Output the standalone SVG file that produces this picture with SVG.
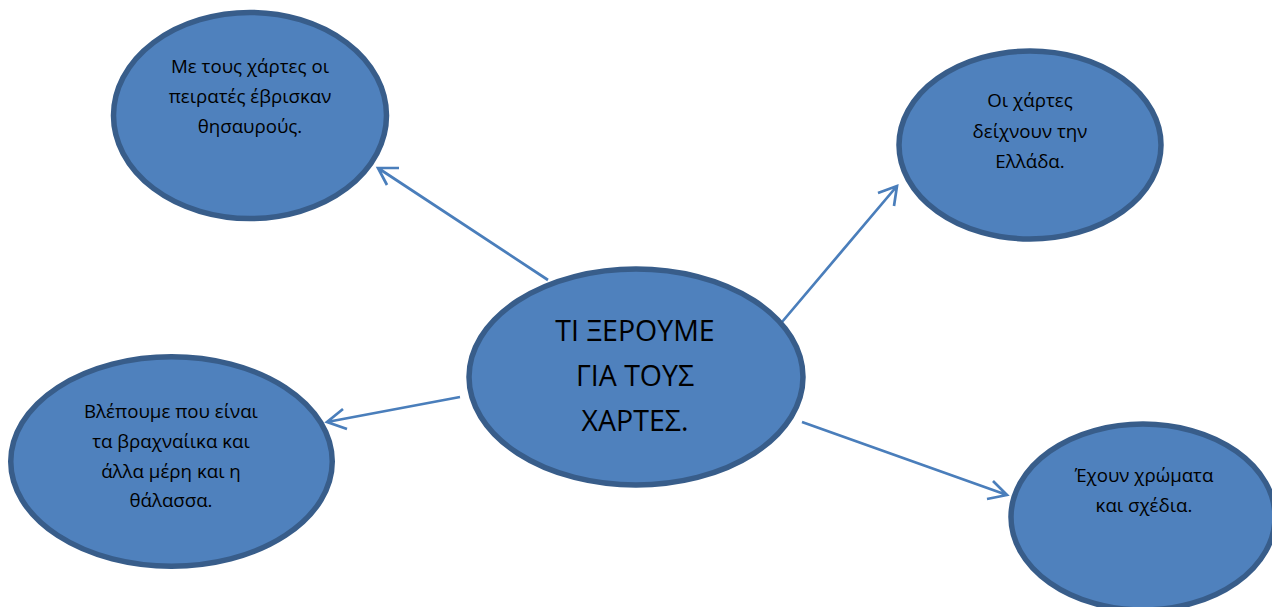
<svg xmlns="http://www.w3.org/2000/svg" width="1272" height="607" viewBox="0 0 1272 607">
<style>
.n{fill:#4f81bd;stroke:#385d8a;stroke-width:5.5}
.c{fill:none;stroke:#4a7ebb;stroke-width:2.7}
text{font-family:"Open Sans","Liberation Sans",sans-serif;fill:#000;text-anchor:middle}
.s{font-size:18.7px}
.b{font-size:28.5px}
</style>
<rect width="1272" height="607" fill="#fff"/>
<g id="connectors">
<path class="c" d="M548 280L378 168M387 185L378 168L399 168"/>
<path class="c" d="M782 322L897 186M878 193L897 186L894 206"/>
<path class="c" d="M460 397L327 422M343 409L327 422L347 429"/>
<path class="c" d="M802 422L1007 495M987 499L1007 495L993 481"/>
</g>
<g id="n-center"><ellipse class="n" cx="636" cy="377" rx="167" ry="108"/>
<text class="b" x="635" y="341">ΤΙ ΞΕΡΟΥΜΕ</text><text class="b" x="635" y="386">ΓΙΑ ΤΟΥΣ</text><text class="b" x="635" y="431">ΧΑΡΤΕΣ.</text></g>
<g id="n-treasure"><ellipse class="n" cx="250" cy="115.500" rx="136.500" ry="103"/>
<text class="s" x="250" y="73">Με τους χάρτες οι</text><text class="s" x="250" y="103">πειρατές έβρισκαν</text><text class="s" x="250" y="133">θησαυρούς.</text></g>
<g id="n-greece"><ellipse class="n" cx="1030" cy="145" rx="131" ry="94"/>
<text class="s" x="1030" y="107">Οι χάρτες</text><text class="s" x="1030" y="138">δείχνουν την</text><text class="s" x="1030" y="168">Ελλάδα.</text></g>
<g id="n-sea"><ellipse class="n" cx="171.500" cy="461.500" rx="160.750" ry="104.750"/>
<text class="s" x="171" y="418">Βλέπουμε που είναι</text><text class="s" x="171" y="448">τα βραχναίικα και</text><text class="s" x="171" y="478">άλλα μέρη και η</text><text class="s" x="171" y="507">θάλασσα.</text></g>
<g id="n-colors"><ellipse class="n" cx="1143" cy="517" rx="132" ry="93"/>
<text class="s" x="1144" y="482">Έχουν χρώματα</text><text class="s" x="1144" y="512">και σχέδια.</text></g>
</svg>
